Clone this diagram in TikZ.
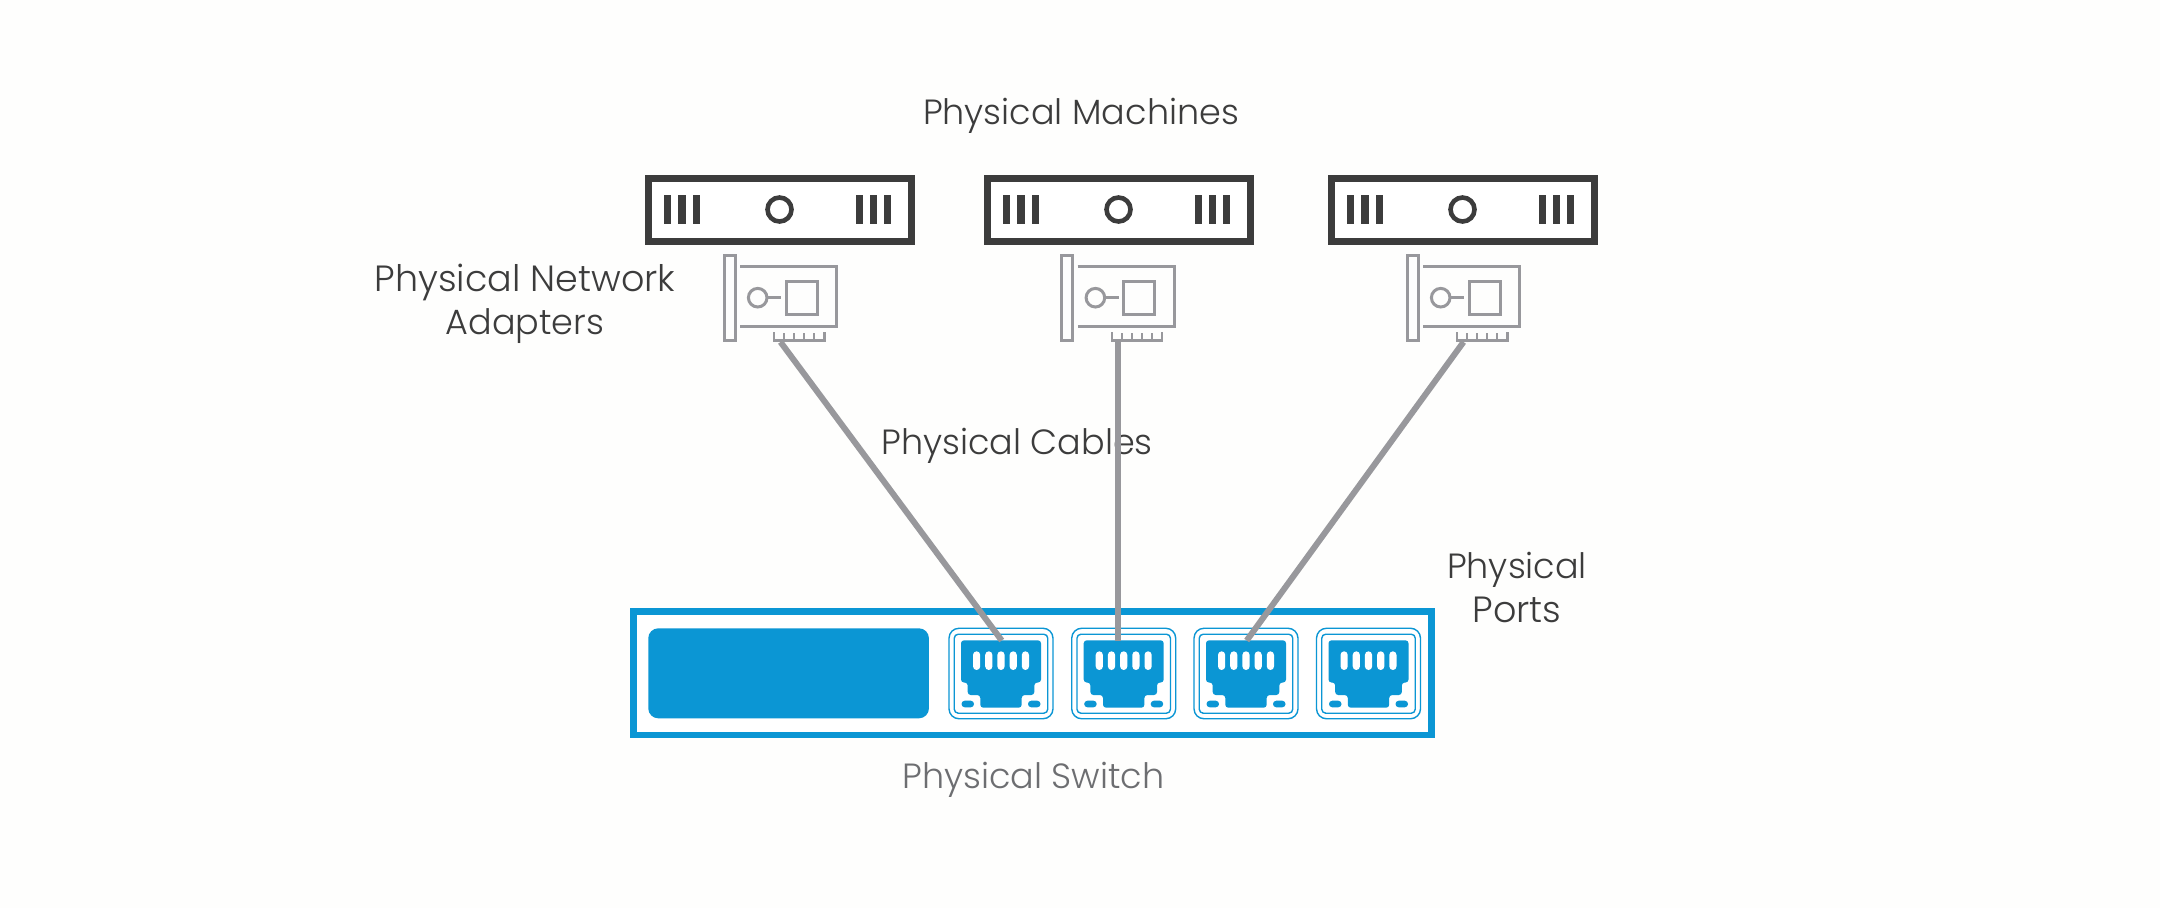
\documentclass[tikz,border=0pt]{standalone}
\usepackage{fontspec}
\setmainfont{Poppins}[UprightFont=* Light]
\definecolor{ink}{HTML}{3C3C3C}
\definecolor{soft}{HTML}{6D6E71}
\definecolor{wire}{HTML}{98989C}
\definecolor{swblue}{HTML}{0B96D4}
\definecolor{paper}{HTML}{FEFEFD}
\tikzset{
  label text/.style={text=ink,font=\fontsize{35}{35}\selectfont,inner sep=0pt,anchor=base},
  wide label/.style={label text,font=\fontsize{36.5}{36.5}\selectfont},
  server box/.style={draw=ink,line width=7pt,fill=white,minimum width=263pt,minimum height=63pt,inner sep=0pt,outer sep=0pt},
  server bar/.style={fill=ink,draw=none},
  server led/.style={circle,draw=ink,line width=4.6pt,minimum size=24pt,inner sep=0pt,outer sep=0pt},
  nic line/.style={draw=wire,line width=3pt},
  nic comb/.style={draw=wire,line width=2.2pt},
  cable/.style={draw=wire,line width=6pt},
  switch box/.style={draw=swblue,line width=6.7pt,fill=white,minimum width=798.3pt,minimum height=123.3pt,inner sep=0pt,outer sep=0pt},
  switch panel/.style={fill=swblue,rounded corners=10pt,minimum width=280.7pt,minimum height=90pt,inner sep=0pt,outer sep=0pt},
  port outer/.style={draw=swblue,line width=1.4pt,rounded corners=10pt,fill=white,minimum width=104pt,minimum height=90.5pt,inner sep=0pt,outer sep=0pt},
  port inner/.style={draw=swblue,line width=1.4pt,rounded corners=4pt,minimum width=93.5pt,minimum height=79pt,inner sep=0pt,outer sep=0pt},
  jack/.style={fill=swblue,rounded corners=3pt},
  pin/.style={fill=white,rounded corners=3.6pt},
  pill/.style={fill=swblue,rounded corners=3.2pt},
}
\newcommand{\nicart}[2]{%
  \begin{scope}[shift={(#2,0)}]
    \draw[nic line] (724,255) rectangle (735,340);
    \draw[nic line] (740,266.7) -- (836.5,266.7) -- (836.5,326) -- (740,326);
    \draw[nic line] (757.7,297.7) circle[radius=9.3];
    \draw[nic line] (767,297.7) -- (781,297.7);
    \draw[nic line] (786,281) rectangle (817,314);
    \draw[nic comb] (774,332) -- (774,340.5) -- (824.5,340.5) -- (824.5,332);
    \foreach \tx in {784,794,804,814} {\draw[nic comb] (\tx,333) -- (\tx,340.5);}
    \coordinate (#1) at (780.5,342);
  \end{scope}}
\newcommand{\portart}[2]{%
  \begin{scope}[shift={(#2,0)}]
    \node[port outer] (#1o) at (0,673.5) {};
    \node[port inner] at (0,673.7) {};
    \fill[jack] (-40,640.3) -- (40,640.3) -- (40,682.5) -- (33.3,682.5) -- (33.3,695) -- (20.7,695) -- (20.7,707.7)
       -- (-20.7,707.7) -- (-20.7,695) -- (-33.3,695) -- (-33.3,682.5) -- (-40,682.5) -- cycle;
    \foreach \px in {-24.4,-12.2,0,12.2,24.4} {\fill[pin] (\px-3.6,651.3) rectangle (\px+3.6,670);}
    \fill[pill] (-39.5,700.7) rectangle (-27,707.3);
    \fill[pill] (27,700.7) rectangle (39.5,707.3);
    \coordinate (#1) at (0.7,640.5);
  \end{scope}}
\begin{document}
\begin{tikzpicture}[x=1pt,y=-1pt]
\useasboundingbox[fill=paper] (0,0) rectangle (2160,908);
% labels
\node[label text] (machines) at (1081,124) {Physical Machines};
\node[wide label] (adapters1) at (525,291) {Physical Network};
\node[label text] (adapters2) at (525,334.5) {Adapters};
\node[label text] (cables) at (1017,454) {Physical Cables};
\node[label text] (ports1) at (1517,578) {Physical};
\node[wide label] (ports2) at (1517,622) {Ports};
\node[label text,text=soft] (switchlabel) at (1033.5,788) {Physical Switch};
% servers
\foreach \nm/\dx in {a/0,b/339,c/683} {
  \begin{scope}[shift={(\dx,0)}]
    \node[server box] (server\nm) at (780,209.5) {};
    \foreach \bx in {664,678.3,692.7,855.7,869.8,884} {\fill[server bar] (\bx,195) rectangle (\bx+7.3,223.7);}
    \node[server led] (led\nm) at (779.5,209.5) {};
  \end{scope}}
% adapters
\nicart{nica}{0}
\nicart{nicb}{337.7}
\nicart{nicc}{683}
% switch
\node[switch box] (switch) at (1032.5,673.3) {};
\node[switch panel] (panel) at (788.6,673.3) {};
\portart{porta}{1001}
\portart{portb}{1123.7}
\portart{portc}{1246}
\portart{portd}{1368.5}
% cables
\coordinate (portbtop) at (nicb |- portb);
\draw[cable] (nica) -- (porta);
\draw[cable] (nicb) -- (portbtop);
\draw[cable] (nicc) -- (portc);
\end{tikzpicture}
\end{document}
